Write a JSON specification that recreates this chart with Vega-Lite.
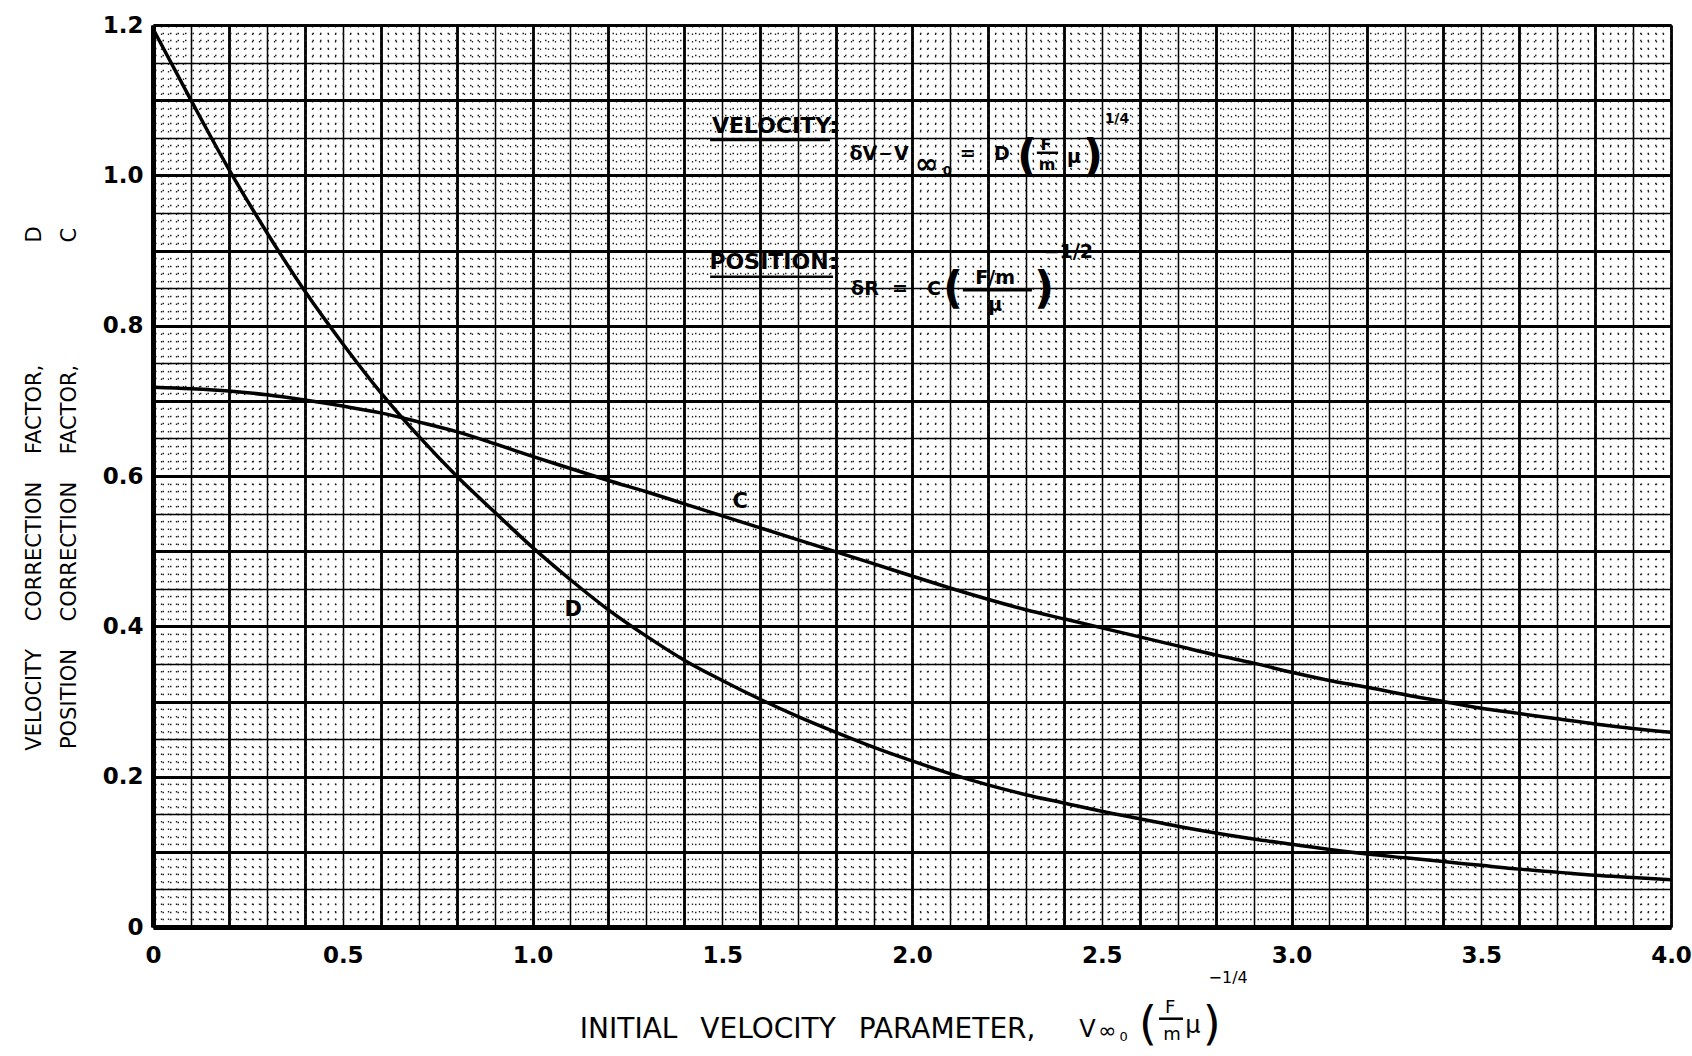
{
  "$schema": "https://vega.github.io/schema/vega-lite/v6.json",
  "width": 1518,
  "height": 902,
  "autosize": {"type": "none"},
  "padding": {"left": 153, "top": 25, "right": 21, "bottom": 129},
  "background": "white",
  "config": {"view": {"stroke": null}, "font": "DejaVu Sans"},
  "datasets": {
    "curves": [
      {"param": 0.0, "factor": 1.195, "curve": "D"}, {"param": 0.1, "factor": 1.100, "curve": "D"},
      {"param": 0.2, "factor": 1.008, "curve": "D"}, {"param": 0.3, "factor": 0.924, "curve": "D"},
      {"param": 0.4, "factor": 0.846, "curve": "D"}, {"param": 0.5, "factor": 0.776, "curve": "D"},
      {"param": 0.6, "factor": 0.711, "curve": "D"}, {"param": 0.7, "factor": 0.653, "curve": "D"},
      {"param": 0.8, "factor": 0.600, "curve": "D"}, {"param": 0.9, "factor": 0.552, "curve": "D"},
      {"param": 1.0, "factor": 0.505, "curve": "D"}, {"param": 1.1, "factor": 0.462, "curve": "D"},
      {"param": 1.2, "factor": 0.422, "curve": "D"}, {"param": 1.3, "factor": 0.387, "curve": "D"},
      {"param": 1.4, "factor": 0.355, "curve": "D"}, {"param": 1.5, "factor": 0.328, "curve": "D"},
      {"param": 1.6, "factor": 0.303, "curve": "D"}, {"param": 1.7, "factor": 0.280, "curve": "D"},
      {"param": 1.8, "factor": 0.259, "curve": "D"}, {"param": 1.9, "factor": 0.239, "curve": "D"},
      {"param": 2.0, "factor": 0.221, "curve": "D"}, {"param": 2.1, "factor": 0.204, "curve": "D"},
      {"param": 2.2, "factor": 0.189, "curve": "D"}, {"param": 2.3, "factor": 0.176, "curve": "D"},
      {"param": 2.4, "factor": 0.165, "curve": "D"}, {"param": 2.5, "factor": 0.154, "curve": "D"},
      {"param": 2.6, "factor": 0.144, "curve": "D"}, {"param": 2.7, "factor": 0.134, "curve": "D"},
      {"param": 2.8, "factor": 0.125, "curve": "D"}, {"param": 2.9, "factor": 0.117, "curve": "D"},
      {"param": 3.0, "factor": 0.110, "curve": "D"}, {"param": 3.1, "factor": 0.103, "curve": "D"},
      {"param": 3.2, "factor": 0.097, "curve": "D"}, {"param": 3.3, "factor": 0.092, "curve": "D"},
      {"param": 3.4, "factor": 0.087, "curve": "D"}, {"param": 3.5, "factor": 0.082, "curve": "D"},
      {"param": 3.6, "factor": 0.077, "curve": "D"}, {"param": 3.7, "factor": 0.073, "curve": "D"},
      {"param": 3.8, "factor": 0.069, "curve": "D"}, {"param": 3.9, "factor": 0.066, "curve": "D"},
      {"param": 4.0, "factor": 0.063, "curve": "D"},
      {"param": 0.0, "factor": 0.718, "curve": "C"}, {"param": 0.1, "factor": 0.716, "curve": "C"},
      {"param": 0.2, "factor": 0.713, "curve": "C"}, {"param": 0.3, "factor": 0.708, "curve": "C"},
      {"param": 0.4, "factor": 0.701, "curve": "C"}, {"param": 0.5, "factor": 0.693, "curve": "C"},
      {"param": 0.6, "factor": 0.684, "curve": "C"}, {"param": 0.7, "factor": 0.672, "curve": "C"},
      {"param": 0.8, "factor": 0.659, "curve": "C"}, {"param": 0.9, "factor": 0.643, "curve": "C"},
      {"param": 1.0, "factor": 0.626, "curve": "C"}, {"param": 1.1, "factor": 0.610, "curve": "C"},
      {"param": 1.2, "factor": 0.594, "curve": "C"}, {"param": 1.3, "factor": 0.579, "curve": "C"},
      {"param": 1.4, "factor": 0.563, "curve": "C"}, {"param": 1.5, "factor": 0.547, "curve": "C"},
      {"param": 1.6, "factor": 0.531, "curve": "C"}, {"param": 1.7, "factor": 0.515, "curve": "C"},
      {"param": 1.8, "factor": 0.499, "curve": "C"}, {"param": 1.9, "factor": 0.483, "curve": "C"},
      {"param": 2.0, "factor": 0.467, "curve": "C"}, {"param": 2.1, "factor": 0.451, "curve": "C"},
      {"param": 2.2, "factor": 0.436, "curve": "C"}, {"param": 2.3, "factor": 0.422, "curve": "C"},
      {"param": 2.4, "factor": 0.410, "curve": "C"}, {"param": 2.5, "factor": 0.398, "curve": "C"},
      {"param": 2.6, "factor": 0.386, "curve": "C"}, {"param": 2.7, "factor": 0.374, "curve": "C"},
      {"param": 2.8, "factor": 0.362, "curve": "C"}, {"param": 2.9, "factor": 0.351, "curve": "C"},
      {"param": 3.0, "factor": 0.339, "curve": "C"}, {"param": 3.1, "factor": 0.328, "curve": "C"},
      {"param": 3.2, "factor": 0.319, "curve": "C"}, {"param": 3.3, "factor": 0.309, "curve": "C"},
      {"param": 3.4, "factor": 0.300, "curve": "C"}, {"param": 3.5, "factor": 0.291, "curve": "C"},
      {"param": 3.6, "factor": 0.284, "curve": "C"}, {"param": 3.7, "factor": 0.277, "curve": "C"},
      {"param": 3.8, "factor": 0.270, "curve": "C"}, {"param": 3.9, "factor": 0.264, "curve": "C"},
      {"param": 4.0, "factor": 0.259, "curve": "C"}
    ],
    "notes": [
      {"text": "C", "x": 1.547, "y": 0.565, "kind": "label"},
      {"text": "D", "x": 1.107, "y": 0.422, "kind": "label"},
      {"text": "VELOCITY:", "x": 1.639, "y": 1.065, "kind": "head"},
      {"text": "δV", "x": 1.872, "y": 1.028, "kind": "main"},
      {"text": "−", "x": 1.929, "y": 1.028, "kind": "minus"},
      {"text": "V", "x": 1.972, "y": 1.028, "kind": "main"},
      {"text": "∞", "x": 2.038, "y": 1.014, "kind": "inf"},
      {"text": "0", "x": 2.093, "y": 1.006, "kind": "sub"},
      {"text": "=", "x": 2.147, "y": 1.028, "kind": "main"},
      {"text": "D", "x": 2.237, "y": 1.028, "kind": "main"},
      {"text": "(", "x": 2.303, "y": 1.023, "kind": "paren"},
      {"text": "F", "x": 2.353, "y": 1.040, "kind": "frac"},
      {"text": "m", "x": 2.356, "y": 1.014, "kind": "frac"},
      {"text": "μ", "x": 2.427, "y": 1.024, "kind": "main"},
      {"text": ")", "x": 2.477, "y": 1.023, "kind": "paren"},
      {"text": "1/4", "x": 2.540, "y": 1.075, "kind": "sup"},
      {"text": "POSITION:", "x": 1.635, "y": 0.885, "kind": "head"},
      {"text": "δR", "x": 1.876, "y": 0.849, "kind": "main"},
      {"text": "=", "x": 1.968, "y": 0.849, "kind": "main"},
      {"text": "C", "x": 2.058, "y": 0.849, "kind": "main"},
      {"text": "(", "x": 2.108, "y": 0.847, "kind": "paren"},
      {"text": "F/m", "x": 2.219, "y": 0.863, "kind": "main"},
      {"text": "μ", "x": 2.219, "y": 0.827, "kind": "main"},
      {"text": ")", "x": 2.348, "y": 0.847, "kind": "paren"},
      {"text": "−1/2", "x": 2.412, "y": 0.898, "kind": "sup2"}
    ],
    "titlebits": [
      {"text": "INITIAL\u2002 VELOCITY\u2002 PARAMETER,", "x": 1.725, "y": -0.137, "kind": "title"},
      {"text": "V", "x": 2.462, "y": -0.137, "kind": "v"},
      {"text": "∞", "x": 2.515, "y": -0.139, "kind": "inf"},
      {"text": "0", "x": 2.558, "y": -0.146, "kind": "sub"},
      {"text": "(", "x": 2.622, "y": -0.130, "kind": "paren"},
      {"text": "F", "x": 2.680, "y": -0.108, "kind": "frac"},
      {"text": "m", "x": 2.685, "y": -0.144, "kind": "frac"},
      {"text": "μ", "x": 2.740, "y": -0.132, "kind": "v"},
      {"text": ")", "x": 2.790, "y": -0.130, "kind": "paren"},
      {"text": "−1/4", "x": 2.833, "y": -0.068, "kind": "sup"}
    ],
    "rules": [
      {"x": 1.468, "x2": 1.784, "y": 1.047},
      {"x": 1.468, "x2": 1.792, "y": 0.865},
      {"x": 2.329, "x2": 2.385, "y": 1.030},
      {"x": 2.134, "x2": 2.316, "y": 0.847},
      {"x": 2.651, "x2": 2.714, "y": -0.122}
    ]
  },
  "resolve": {"axis": {"x": "independent", "y": "independent"}},
  "layer": [
    {
      "data": {"name": "curves"},
      "mark": {"type": "line", "color": "#000", "strokeWidth": 3.5, "interpolate": "monotone"},
      "encoding": {
        "x": {
          "field": "param", "type": "quantitative",
          "scale": {"domain": [0, 4], "nice": false, "zero": false},
          "axis": {
            "orient": "bottom", "values": [0, 0.5, 1, 1.5, 2, 2.5, 3, 3.5, 4], "grid": false,
            "ticks": false, "domain": true, "domainColor": "#000", "domainWidth": 5,
            "labelExpr": "datum.value == 0 ? '0' : format(datum.value, '.1f')",
            "labelFont": "DejaVu Sans", "labelFontSize": 23, "labelFontWeight": "bold", "labelColor": "#000",
            "labelPadding": 17, "labelOverlap": false, "labelFlush": false, "labelBound": false,
            "title": null
          }
        },
        "y": {
          "field": "factor", "type": "quantitative",
          "scale": {"domain": [0, 1.2], "nice": false, "zero": false},
          "axis": {
            "orient": "left", "values": [0, 0.2, 0.4, 0.6, 0.8, 1, 1.2], "grid": false,
            "ticks": false, "domain": true, "domainColor": "#000", "domainWidth": 5,
            "labelExpr": "datum.value == 0 ? '0' : format(datum.value, '.1f')",
            "labelFont": "DejaVu Sans", "labelFontSize": 23, "labelFontWeight": "bold", "labelColor": "#000",
            "labelPadding": 10, "labelOverlap": false, "labelFlush": false, "labelBound": false,
            "title": ["VELOCITY\u2003 CORRECTION\u2003 FACTOR,\u2003\u2003\u2003\u2003\u2003\u2002 D", "POSITION\u2003 CORRECTION\u2003 FACTOR,\u2003\u2003\u2003\u2003\u2003\u2002 C"],
            "titleFont": "DejaVu Sans", "titleFontSize": 21, "titleFontWeight": "normal", "titleColor": "#000",
            "titleAngle": -90, "titleAlign": "center", "titleBaseline": "bottom", "titleLineHeight": 35,
            "titleX": -109, "titleY": 463
          }
        },
        "detail": {"field": "curve", "type": "nominal"}
      }
    },
    {
      "data": {"name": "notes"},
      "mark": {"type": "text", "font": "DejaVu Sans", "fontWeight": "bold", "align": "center", "baseline": "middle", "color": "#000"},
      "encoding": {
        "x": {
          "field": "x", "type": "quantitative",
          "scale": {"domain": [0, 4], "nice": false, "zero": false},
          "axis": {"orient": "top", "tickCount": 20, "grid": true, "gridColor": "#000", "gridWidth": 2.8, "gridOpacity": 1, "labels": false, "ticks": false, "domain": false, "title": null}
        },
        "y": {
          "field": "y", "type": "quantitative",
          "scale": {"domain": [0, 1.2], "nice": false, "zero": false},
          "axis": {"orient": "right", "tickCount": 12, "grid": true, "gridColor": "#000", "gridWidth": 2.8, "gridOpacity": 1, "labels": false, "ticks": false, "domain": false, "title": null}
        },
        "text": {"field": "text", "type": "nominal"},
        "size": {
          "condition": [
            {"test": "datum.kind === 'label'", "value": 21},
            {"test": "datum.kind === 'head'", "value": 22},
            {"test": "datum.kind === 'main'", "value": 19},
            {"test": "datum.kind === 'minus'", "value": 16},
            {"test": "datum.kind === 'inf'", "value": 28},
            {"test": "datum.kind === 'sub'", "value": 13},
            {"test": "datum.kind === 'paren'", "value": 44},
            {"test": "datum.kind === 'frac'", "value": 16},
            {"test": "datum.kind === 'sup'", "value": 14},
            {"test": "datum.kind === 'sup2'", "value": 19}
          ],
          "value": 19
        }
      }
    },
    {
      "data": {"name": "rules"},
      "mark": {"type": "rule", "color": "#000", "strokeWidth": 2.5},
      "encoding": {
        "x": {
          "field": "x", "type": "quantitative",
          "scale": {"domain": [0, 4], "nice": false, "zero": false},
          "axis": {"orient": "top", "tickCount": 200, "grid": true, "gridColor": "#222", "gridWidth": 1.3, "gridOpacity": 1, "gridDash": [1.5, 6], "labels": false, "ticks": false, "domain": false, "title": null}
        },
        "x2": {"field": "x2"},
        "y": {
          "field": "y", "type": "quantitative",
          "scale": {"domain": [0, 1.2], "nice": false, "zero": false},
          "axis": {"orient": "right", "tickCount": 120, "grid": true, "gridColor": "#222", "gridWidth": 1.3, "gridOpacity": 1, "gridDash": [1.5, 6], "labels": false, "ticks": false, "domain": false, "title": null}
        }
      }
    },
    {
      "data": {"name": "titlebits"},
      "mark": {"type": "text", "font": "DejaVu Sans", "fontWeight": "normal", "align": "center", "baseline": "middle", "color": "#000"},
      "encoding": {
        "x": {
          "field": "x", "type": "quantitative",
          "scale": {"domain": [0, 4], "nice": false, "zero": false},
          "axis": {"orient": "bottom", "tickCount": 40, "grid": true, "gridColor": "#000", "gridWidth": 1.5, "gridOpacity": 1, "labels": false, "ticks": false, "domain": false, "title": null}
        },
        "y": {
          "field": "y", "type": "quantitative",
          "scale": {"domain": [0, 1.2], "nice": false, "zero": false},
          "axis": {"orient": "left", "tickCount": 24, "grid": true, "gridColor": "#000", "gridWidth": 1.5, "gridOpacity": 1, "labels": false, "ticks": false, "domain": false, "title": null}
        },
        "text": {"field": "text", "type": "nominal"},
        "size": {
          "condition": [
            {"test": "datum.kind === 'title'", "value": 28},
            {"test": "datum.kind === 'v'", "value": 24},
            {"test": "datum.kind === 'inf'", "value": 22},
            {"test": "datum.kind === 'sub'", "value": 13},
            {"test": "datum.kind === 'paren'", "value": 46},
            {"test": "datum.kind === 'frac'", "value": 18},
            {"test": "datum.kind === 'sup'", "value": 16}
          ],
          "value": 24
        }
      }
    }
  ]
}
